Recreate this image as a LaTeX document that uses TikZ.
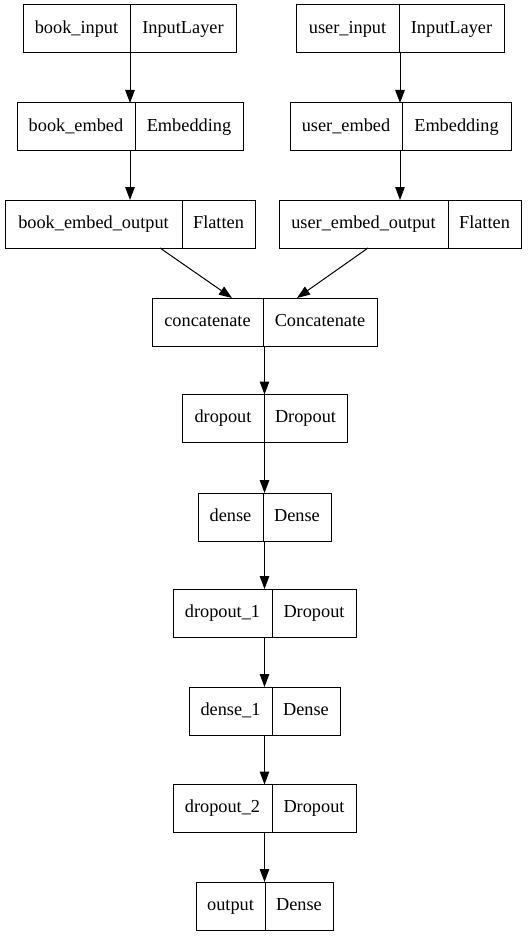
\documentclass[tikz,border=0pt]{standalone}
\usepackage{fontspec}
\setmainfont{Liberation Serif}
\usetikzlibrary{positioning,calc,arrows.meta}

\tikzset{
  field/.style={draw,line width=1pt,inner sep=0pt,outer sep=0pt,
    minimum height=48pt,text height=12.5pt,text depth=4pt,
    font=\fontsize{18.3}{22}\selectfont},
  flow/.style={line width=1pt,-{Triangle[length=13pt,width=9.5pt]}},
}

\begin{document}
\begin{tikzpicture}[x=1pt,y=-1pt]
    \useasboundingbox (0,0) rectangle (527,936);
    \coordinate (bookLane) at (130,0);
    \coordinate (userLane) at (400,0);
    \coordinate (mainLane) at (264.5,0);
    % book branch
    \node[field,minimum width=107pt] (bookIn) at (76.5,29) {book\_input};
    \node[field,minimum width=106pt,right=0pt of bookIn] (bookInT) {InputLayer};
    \node[field,minimum width=118pt] (bookEmb) at (76,127) {book\_embed};
    \node[field,minimum width=108pt,right=0pt of bookEmb] (bookEmbT) {Embedding};
    \node[field,minimum width=177pt] (bookOut) at (93.5,224) {book\_embed\_output};
    \node[field,minimum width=73pt,right=0pt of bookOut] (bookOutT) {Flatten};
    % user branch
    \node[field,minimum width=103pt] (userIn) at (347.5,29) {user\_input};
    \node[field,minimum width=105pt,right=0pt of userIn] (userInT) {InputLayer};
    \node[field,minimum width=112pt] (userEmb) at (346,127) {user\_embed};
    \node[field,minimum width=109pt,right=0pt of userEmb] (userEmbT) {Embedding};
    \node[field,minimum width=169pt] (userOut) at (363.5,224) {user\_embed\_output};
    \node[field,minimum width=73pt,right=0pt of userOut] (userOutT) {Flatten};
    % merged stack
    \node[field,minimum width=111pt] (concat) at (207.5,322) {concatenate};
    \node[field,minimum width=114pt,right=0pt of concat] (concatT) {Concatenate};
    \node[field,minimum width=82pt] (drop) at (223,418.5) {dropout};
    \node[field,minimum width=83pt,right=0pt of drop] (dropT) {Dropout};
    \node[field,minimum width=65pt] (dense) at (230.5,517) {dense};
    \node[field,minimum width=68pt,right=0pt of dense] (denseT) {Dense};
    \node[field,minimum width=99pt] (dropA) at (222.5,613) {dropout\_1};
    \node[field,minimum width=84pt,right=0pt of dropA] (dropAT) {Dropout};
    \node[field,minimum width=83pt] (denseA) at (230.5,711) {dense\_1};
    \node[field,minimum width=68pt,right=0pt of denseA] (denseAT) {Dense};
    \node[field,minimum width=99pt] (dropB) at (222.5,808.5) {dropout\_2};
    \node[field,minimum width=84pt,right=0pt of dropB] (dropBT) {Dropout};
    \node[field,minimum width=69pt] (output) at (230.5,906) {output};
    \node[field,minimum width=68pt,right=0pt of output] (outputT) {Dense};
    % edges
    \draw[flow] (bookIn.south -| bookLane) -- (bookEmb.north -| bookLane);
    \draw[flow] (bookEmb.south -| bookLane) -- (bookOut.north -| bookLane);
    \draw[flow] (userIn.south -| userLane) -- (userEmb.north -| userLane);
    \draw[flow] (userEmb.south -| userLane) -- (userOut.north -| userLane);
    \draw[flow] ($(bookOut.south)+(66.5,0)$) -- ($(concat.north)+(24.5,0)$);
    \draw[flow] ($(userOut.south)+(4.5,0)$) -- ($(concatT.north)+(-23,0)$);
    \draw[flow] (concat.south -| mainLane) -- (drop.north -| mainLane);
    \draw[flow] (drop.south -| mainLane) -- (dense.north -| mainLane);
    \draw[flow] (dense.south -| mainLane) -- (dropA.north -| mainLane);
    \draw[flow] (dropA.south -| mainLane) -- (denseA.north -| mainLane);
    \draw[flow] (denseA.south -| mainLane) -- (dropB.north -| mainLane);
    \draw[flow] (dropB.south -| mainLane) -- (output.north -| mainLane);
\end{tikzpicture}
\end{document}
